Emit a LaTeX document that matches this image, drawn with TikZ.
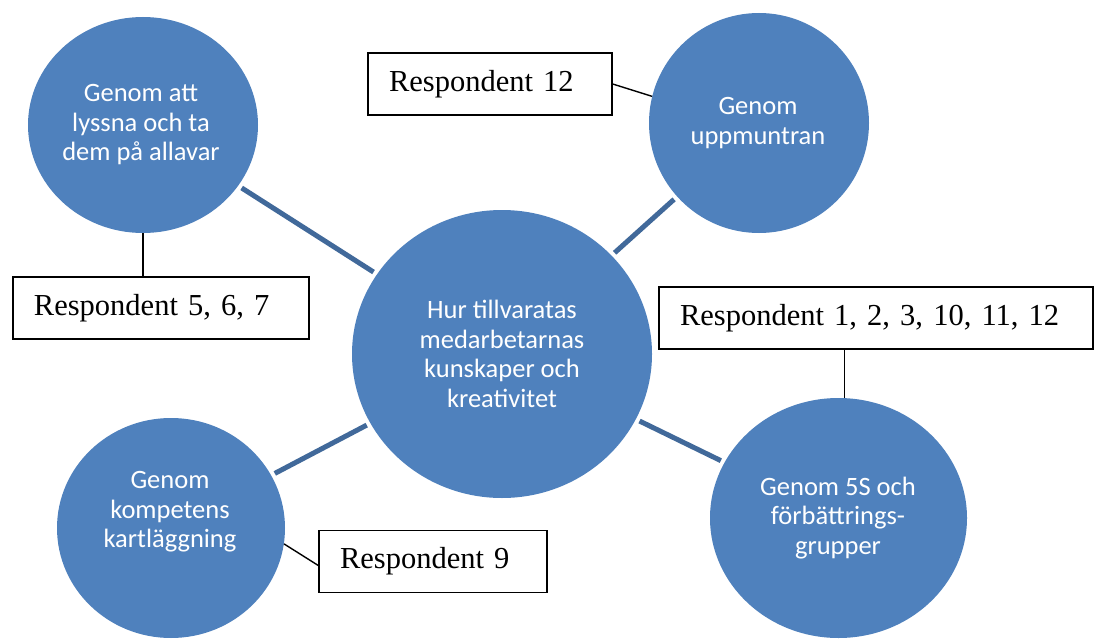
\documentclass[tikz,border=0pt]{standalone}
\usepackage{fontspec}
\setmainfont{Liberation Serif}
\newfontfamily\carl{Carlito}
\usetikzlibrary{shapes.geometric}
\definecolor{bubblefill}{HTML}{4F81BD}
\definecolor{spokecol}{HTML}{41699A}
\tikzset{
  bubble/.style={ellipse, fill=bubblefill, draw=none, inner sep=0pt},
  btext/.style={font=\carl\fontsize{26.5}{29.5}\selectfont, text=white, align=center, inner sep=0pt},
  spokeline/.style={draw=spokecol, line width=5pt, shorten <=4pt, shorten >=4pt},
  rbox/.style={draw=black, line width=1.4pt, fill=white, inner ysep=0pt, inner xsep=21pt,
               align=left, minimum height=62pt, font=\fontsize{30.5}{36}\selectfont},
  tie/.style={draw=black, line width=1.4pt},
}
\begin{document}
\begin{tikzpicture}[x=1pt,y=-1pt]
\useasboundingbox[fill=white] (0,0) rectangle (1098,642);

% bubbles
\node[bubble, minimum width=300, minimum height=288] (c)  at (502,354) {};
\node[bubble, minimum width=230, minimum height=216] (tl) at (143,125) {};
\node[bubble, minimum width=220, minimum height=220] (tr) at (759,123) {};
\node[bubble, minimum width=228, minimum height=220] (bl) at (171,528) {};
\node[bubble, minimum width=257, minimum height=240] (br) at (838.5,518) {};

% bubble texts
\node[btext] (ct)  at (502,354) {Hur tillvaratas\\medarbetarnas\\kunskaper och\\kreativitet};
\node[btext] (tlt) at (141,125) {Genom att\\lyssna och ta\\dem på allavar};
\node[btext] (trt) at (758,123) {Genom\\uppmuntran};
\node[btext] (blt) at (170,512) {Genom\\kompetens\\kartläggning};
\node[btext] (brt) at (838,518) {Genom 5S och\\förbättrings-\\grupper};

% spokes
\draw[spokeline] (tl) -- (c);
\draw[spokeline] (tr) -- (c);
\draw[spokeline] (bl) -- (c);
\draw[spokeline] (br) -- (c);

% respondent boxes
\node[rbox, minimum width=244, text width=202] (b12)  at (490,84)    {Respondent 12};
\node[rbox, minimum width=296, text width=254] (b567) at (161,308)   {Respondent 5, 6, 7};
\node[rbox, minimum width=434, text width=392] (b123) at (876,318)   {Respondent 1, 2, 3, 10, 11, 12};
\node[rbox, minimum width=228, text width=186] (b9)   at (433,561.5) {Respondent 9};

% ties
\draw[tie] (b12.east) -- (tr.166);
\draw[tie] (tl.south) -- (tl.south |- b567.north);
\draw[tie] (br.87) -- (br.87 |- b123.south);
\draw[tie] (bl.-8) -- ([yshift=-4pt]b9.west);
\end{tikzpicture}
\end{document}
